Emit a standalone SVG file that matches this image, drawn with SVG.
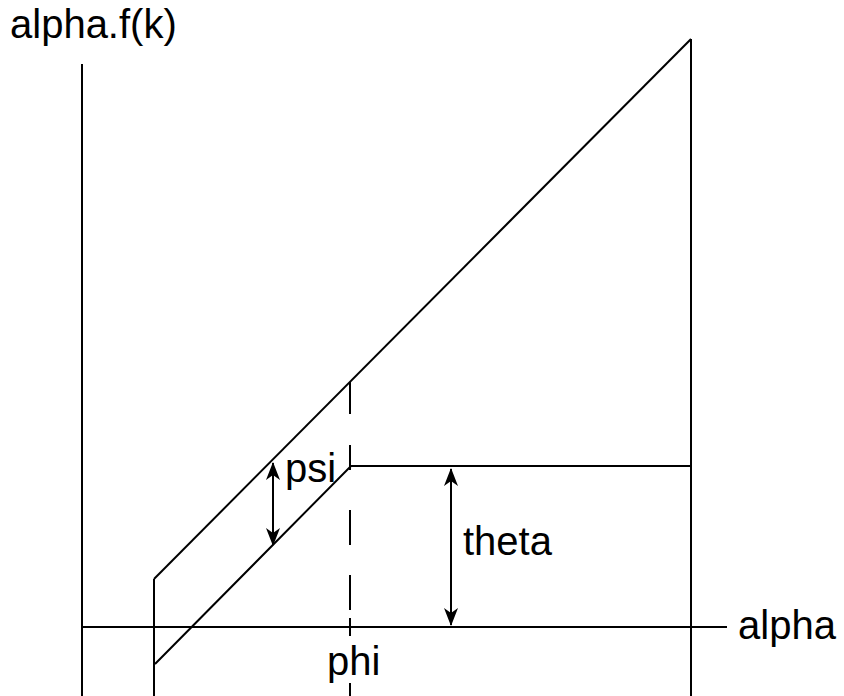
<svg xmlns="http://www.w3.org/2000/svg" width="844" height="696" viewBox="0 0 844 696">
<style>
.ln{stroke:#000;stroke-width:2;fill:none}
.tx{font-family:"Liberation Sans",Arial,sans-serif;font-size:40px;fill:#000}
</style>
<defs>
<marker id="ah" viewBox="0 0 18 14" refX="17" refY="7" markerWidth="18" markerHeight="14" markerUnits="userSpaceOnUse" orient="auto-start-reverse">
<path d="M0,0 L18,7 L0,14 L5,7 Z" fill="#000"/>
</marker>
</defs>
<rect width="844" height="696" fill="#fff"/>
<g id="connectors">
<line id="y-axis" class="ln" x1="82" y1="64" x2="82" y2="696"/>
<line id="x-axis" class="ln" x1="82" y1="627" x2="727" y2="627"/>
<line id="right-bound" class="ln" x1="691" y1="39" x2="691" y2="696"/>
<line id="left-bound" class="ln" x1="154" y1="579" x2="154" y2="696"/>
<line id="upper-diag" class="ln" x1="154" y1="579" x2="691" y2="39"/>
<polyline id="lower-curve" class="ln" points="155,664 351,466 691,466"/>
<path id="phi-dash" class="ln" d="M350,382V414M350,445V470M350,510V545M350,575V610M350,618V636M350,683V696"/>
<line id="psi-arrow" class="ln" x1="273" y1="463" x2="273" y2="545" marker-start="url(#ah)" marker-end="url(#ah)"/>
<line id="theta-arrow" class="ln" x1="451" y1="469" x2="451" y2="625" marker-start="url(#ah)" marker-end="url(#ah)"/>
</g>
<g id="labels">
<text class="tx" x="10" y="38">alpha.f(k)</text>
<text class="tx" x="738" y="639">alpha</text>
<text class="tx" x="285" y="482">psi</text>
<text class="tx" x="463" y="555">theta</text>
<text class="tx" x="327" y="675">phi</text>
</g>
</svg>
